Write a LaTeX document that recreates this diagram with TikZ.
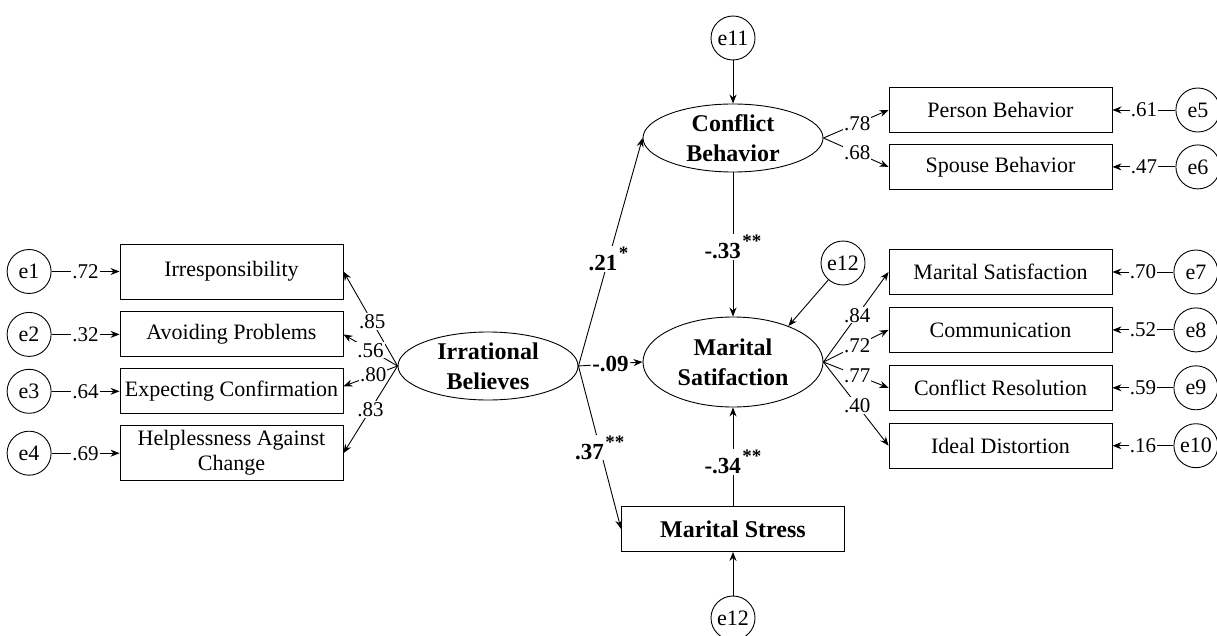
\documentclass[tikz,border=0pt]{standalone}
\usepackage{fontspec}
\setmainfont{Liberation Serif}
\usepackage{tikz}
\usetikzlibrary{arrows.meta,positioning,shapes.geometric}
\newcommand{\sig}[1]{\hspace{1.5pt}\raisebox{11pt}{\fontsize{19}{19}\selectfont#1}}
\tikzset{
  obs/.style    ={draw,line width=0.9pt,minimum width=223pt,minimum height=45pt,
                  inner xsep=1pt,inner ysep=2pt,align=center,font=\fontsize{22}{25}\selectfont},
  obstall/.style={obs,minimum height=55pt},
  lat/.style    ={ellipse,draw,line width=0.9pt,minimum width=180pt,minimum height=68pt,
                  inner sep=0pt,align=center,font=\fontsize{24}{30}\selectfont\bfseries},
  err/.style    ={circle,draw,line width=0.9pt,minimum size=44pt,inner sep=0pt,
                  font=\fontsize{22}{24}\selectfont},
  arr/.style    ={-{Stealth[length=9pt,width=7pt]},line width=0.9pt},
  ld/.style     ={fill=white,inner sep=1pt,font=\fontsize{21}{21}\selectfont},
  coef/.style   ={fill=white,inner sep=1pt,font=\fontsize{23}{23}\selectfont\bfseries}
}
\begin{document}
\begin{tikzpicture}[x=1pt,y=-1pt,node distance=11pt]
        \useasboundingbox (0,0) rectangle (1217,636);
        % latent variables
        \node[lat] (irr) at (488,366) {Irrational\\Believes};
        \node[lat] (conf) at (733,138) {Conflict\\Behavior};
        \node[lat,minimum height=90pt] (sat) at (733,362) {Marital\\Satifaction};
        \node[obs,font=\fontsize{24}{26}\selectfont\bfseries] (stress) at (733,529) {Marital Stress};
        % indicators, left
        \node[obstall] (irres) at (231.5,271.5) {Irresponsibility};
        \node[obs,below=12pt of irres] (avoid) {Avoiding Problems};
        \node[obs,below=of avoid] (expect) {Expecting Confirmation};
        \node[obstall,below=of expect] (help) {Helplessness Against\\Change};
        \node[err,left=68pt of irres] (e1) {e1};
        \node[err,left=68pt of avoid] (e2) {e2};
        \node[err,left=68pt of expect] (e3) {e3};
        \node[err,left=68pt of help] (e4) {e4};
        % indicators, right
        \node[obs] (pers) at (1000.5,110) {Person Behavior};
        \node[obs,below=of pers] (spou) {Spouse Behavior};
        \node[obs] (msat) at (1000.5,272) {Marital Satisfaction};
        \node[obs,below=12pt of msat] (comm) {Communication};
        \node[obs,below=12pt of comm] (confr) {Conflict Resolution};
        \node[obs,below=12pt of confr] (ideal) {Ideal Distortion};
        \node[err,right=63pt of pers] (e5) {e5};
        \node[err,right=63pt of spou] (e6) {e6};
        \node[err,right=61pt of msat] (e7) {e7};
        \node[err,right=61pt of comm] (e8) {e8};
        \node[err,right=61pt of confr] (e9) {e9};
        \node[err,right=61pt of ideal] (e10) {e10};
        % disturbances
        \node[err] (e11) at (733,38) {e11};
        \node[err] (e12u) at (843,263) {e12};
        \node[err] (e12d) at (733,618) {e12};
        % errors to indicators
        \draw[arr] (e1) -- node[ld]{.72} (irres);
        \draw[arr] (e2) -- node[ld]{.32} (avoid);
        \draw[arr] (e3) -- node[ld]{.64} (expect);
        \draw[arr] (e4) -- node[ld]{.69} (help);
        \draw[arr] (e5) -- node[ld]{.61} (pers);
        \draw[arr] (e6) -- node[ld]{.47} (spou);
        \draw[arr] (e7) -- node[ld]{.70} (msat);
        \draw[arr] (e8) -- node[ld]{.52} (comm);
        \draw[arr] (e9) -- node[ld]{.59} (confr);
        \draw[arr] (e10) -- node[ld]{.16} (ideal);
        % loadings
        \draw[arr] (irr.west) -- node[ld,pos=.47]{.85} (irres.east);
        \draw[arr] (irr.west) -- node[ld,pos=.5]{.56} (avoid.east);
        \draw[arr] (irr.west) -- node[ld,pos=.45]{.80} ([yshift=5pt]expect.east);
        \draw[arr] (irr.west) -- node[ld,pos=.5]{.83} (help.east);
        \draw[arr] (conf.east) -- node[ld,pos=.52]{.78} (pers.west);
        \draw[arr] (conf.east) -- node[ld,pos=.52]{.68} (spou.west);
        \draw[arr] (sat.east) -- node[ld,pos=.52]{.84} (msat.west);
        \draw[arr] (sat.east) -- node[ld,pos=.52]{.72} (comm.west);
        \draw[arr] (sat.east) -- node[ld,pos=.52]{.77} (confr.west);
        \draw[arr] (sat.east) -- node[ld,pos=.52]{.40} (ideal.west);
        % structural paths
        \draw[arr] (irr.east) -- node[coef,pos=.47]{.21\sig{*}} (conf.west);
        \draw[arr] (irr.east) -- node[coef]{-.09} (sat.west);
        \draw[arr] (irr.east) -- node[coef]{.37\sig{**}} (stress.west);
        \draw[arr] (conf) -- node[coef,pos=.52]{-.33\sig{**}} (sat);
        \draw[arr] (stress) -- node[coef,pos=.45]{-.34\sig{**}} (sat);
        \draw[arr] (e11) -- (conf);
        \draw[arr] (e12u) -- (sat.33);
        \draw[arr] (e12d) -- (stress);
      \end{tikzpicture}
\end{document}
